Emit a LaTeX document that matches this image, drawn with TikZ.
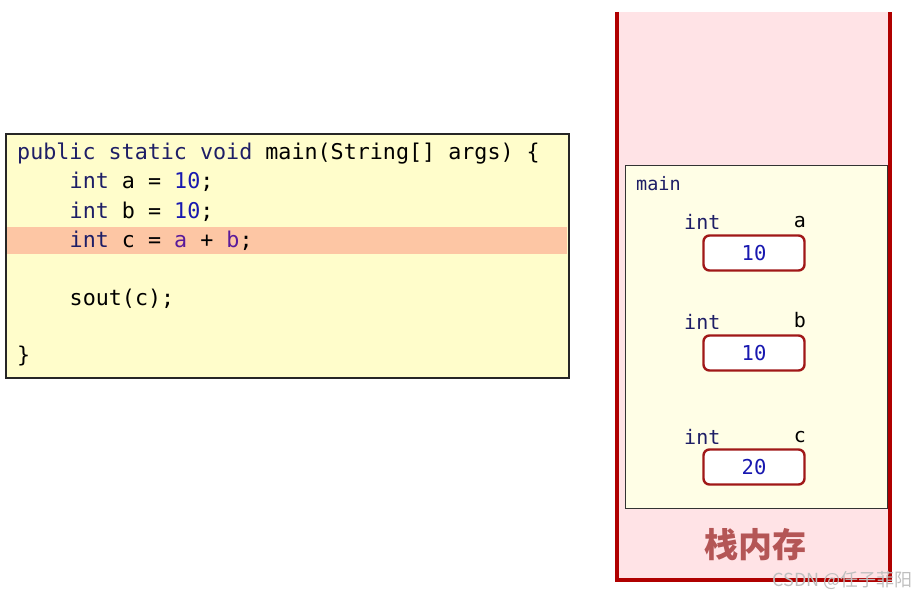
\documentclass[tikz,border=0pt]{standalone}
\usepackage{fontspec}
\setmonofont{DejaVu Sans Mono}
\newfontfamily\cjkfont{Noto Sans CJK SC}
\definecolor{codebg}{HTML}{FFFDCB}
\definecolor{hilite}{HTML}{FDC6A4}
\definecolor{kw}{HTML}{1E1E66}
\definecolor{num}{HTML}{1818B0}
\definecolor{var}{HTML}{5A1A9A}
\definecolor{stackbg}{HTML}{FFE3E6}
\definecolor{stackline}{HTML}{B00000}
\definecolor{framebg}{HTML}{FFFEE6}
\definecolor{boxline}{HTML}{A01818}
\definecolor{stacktitle}{HTML}{B45656}
\newcommand{\kwd}[1]{\textcolor{kw}{#1}}
\newcommand{\nm}[1]{\textcolor{num}{#1}}
\newcommand{\vr}[1]{\textcolor{var}{#1}}
\tikzset{
  codeline/.style={anchor=base west, inner sep=0pt, font=\ttfamily\fontsize{21.7}{26}\selectfont},
  lbl/.style={inner sep=0pt, font=\ttfamily\fontsize{20}{24}\selectfont},
  valbox/.style={draw=boxline, line width=2.4pt, fill=white, rounded corners=6pt,
    minimum width=101pt, minimum height=35pt, inner sep=0pt,
    font=\ttfamily\fontsize{20.5}{24}\selectfont, text=num},
}
\begin{document}
\begin{tikzpicture}[x=1pt,y=-1pt]
\useasboundingbox (0,0) rectangle (917,596);
\fill[white] (0,0) rectangle (917,596);
% code box
\node[draw=black!85, line width=1.6pt, fill=codebg, minimum width=563pt, minimum height=244pt, inner sep=0pt, anchor=north west] (code) at (5,133) {};
\fill[hilite] (6.5,227) rectangle (566.5,254);
\node[codeline] (l1) at (17,160) {\kwd{public static void} main(String[] args) \{};
\node[codeline] (l2) at (69.5,189) {\kwd{int} a = \nm{10};};
\node[codeline] (l3) at (69.5,218) {\kwd{int} b = \nm{10};};
\node[codeline] (l4) at (69.5,247) {\kwd{int} c = \vr{a} + \vr{b};};
\node[codeline] (l5) at (69.5,305) {sout(c);};
\node[codeline] (l6) at (17,362) {\}};
% stack
\fill[stackbg] (617,12) rectangle (890,579);
\draw[stackline, line width=4pt] (617,12) -- (617,580) -- (890,580) -- (890,12);
\node[draw=black!80, line width=1.3pt, fill=framebg, minimum width=262pt, minimum height=343pt, inner sep=0pt, anchor=north west] (frame) at (625,165) {};
\node[anchor=base west, inner sep=0pt, font=\ttfamily\fontsize{18.5}{22}\selectfont, text=kw] (mainlbl) at (636,190) {main};
% variables
\node[valbox] (va) at (754,253) {10};
\node[lbl, anchor=base west, text=kw] (ta) at (684,229) {int};
\node[lbl, anchor=base east] (na) at (806,227) {a};
\node[valbox] (vb) at (754,353) {10};
\node[lbl, anchor=base west, text=kw] (tb) at (684,329) {int};
\node[lbl, anchor=base east] (nb) at (806,327) {b};
\node[valbox] (vc) at (754,467) {20};
\node[lbl, anchor=base west, text=kw] (tc) at (684,444) {int};
\node[lbl, anchor=base east] (nc) at (806,442) {c};
\node[font=\cjkfont\bfseries\fontsize{34}{40}\selectfont, text=stacktitle, inner sep=0pt] (title) at (755,545) {栈内存};
% watermark
\node[font=\cjkfont\fontsize{18}{20}\selectfont, text=black!25, anchor=east, inner sep=0pt] (wm) at (913,580) {CSDN @任子菲阳};
\end{tikzpicture}
\end{document}
